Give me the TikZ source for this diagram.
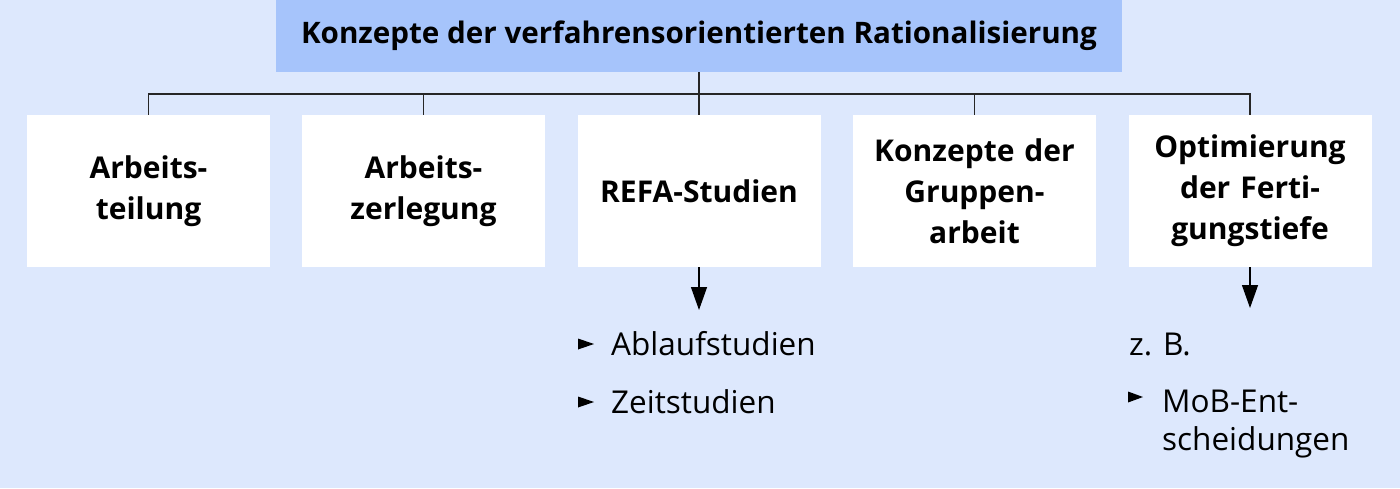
\documentclass[tikz,border=0pt]{standalone}
\usepackage{fontspec}
\setmainfont{Open Sans}
\usetikzlibrary{arrows.meta}
\definecolor{bgblue}{HTML}{DDE8FD}
\definecolor{topblue}{HTML}{A6C4FB}
\begin{document}
\begin{tikzpicture}[x=1pt,y=-1pt,
  catbox/.style={fill=white, minimum width=243pt, minimum height=152pt, inner sep=0pt,
    font=\fontsize{30}{41}\selectfont\bfseries, align=center, text width=235pt},
  conn/.style={line width=1.3pt, draw=black!85},
  arr/.style={line width=1.3pt, -{Triangle[length=23pt,width=16pt]}},
  itemtext/.style={anchor=base west, inner sep=0pt, font=\fontsize{31.5}{38}\selectfont},
  bul/.style={fill=black}
]
\fill[bgblue] (0,0) rectangle (1400,488);
\useasboundingbox (0,0) rectangle (1400,488);

\node[fill=topblue, minimum width=846pt, minimum height=72pt, inner sep=0pt,
  font=\fontsize{29.6}{36}\selectfont\bfseries] (top) at (699,36)
  {Konzepte der verfahrensorientierten Rationalisierung};

\node[catbox] (b1) at (148.5,191) {Arbeits-\\teilung};
\node[catbox] (b2) at (423.5,191) {Arbeits-\\zerlegung};
\node[catbox] (b3) at (699,191) {REFA-Studien};
\node[catbox] (b4) at (974.5,191) {Konzepte der\\Gruppen-\\arbeit};
\node[catbox] (b5) at (1250,191) {Optimierung\\der Ferti-\\gungstiefe};

\coordinate (bus) at (699,94);
\draw[conn] (top.south) -- (bus);
\draw[conn] (b1.north) -- (b1.north |- bus) -- (b5.north |- bus) -- (b5.north);
\draw[conn] (b2.north) -- (b2.north |- bus);
\draw[conn] (b3.north) -- (b3.north |- bus);
\draw[conn] (b4.north) -- (b4.north |- bus);

\coordinate (t3) at (699,310);
\coordinate (t5) at (1250,308);
\draw[arr] (b3.south) -- (t3);
\draw[arr] (b5.south) -- (t5);

\fill[bul] (578,338.5) -- (594,344) -- (578,349.5) -- cycle;
\node[itemtext] (i1) at (611,355) {Ablaufstudien};
\fill[bul] (578,396.5) -- (594,402) -- (578,407.5) -- cycle;
\node[itemtext] (i2) at (611,413) {Zeitstudien};

\node[itemtext] (zb) at (1129,355) {z. B.};
\fill[bul] (1128,391.5) -- (1143,397) -- (1128,402.5) -- cycle;
\node[itemtext] (i3) at (1162,412) {MoB-Ent-};
\node[itemtext] (i4) at (1162,450) {scheidungen};
\end{tikzpicture}
\end{document}
